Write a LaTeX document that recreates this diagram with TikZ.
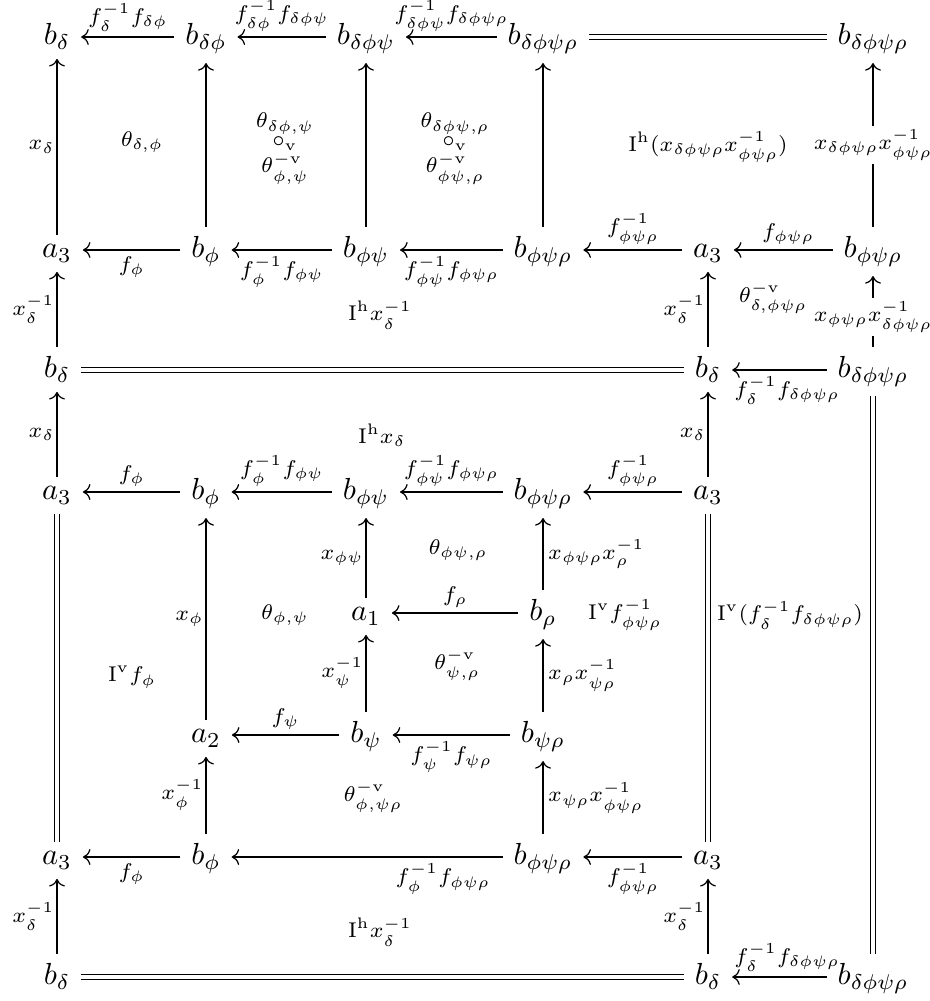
\documentclass[tikz,border=0pt]{standalone}
\usetikzlibrary{cd,arrows.meta}
\begin{document}
\begin{tikzpicture}[x=0.328pt,y=-0.328pt,
  obj/.style={shape=asymmetrical rectangle, inner xsep=3.4pt, inner ysep=3pt},
  arr/.style={-{Computer Modern Rightarrow}, line width=0.4pt},
  eq/.style={double, double distance=1.1pt, line width=0.4pt},
  lab/.style={font=\scriptsize, inner sep=2pt},
  la/.style={lab, above, inner ysep=1.6pt},
  lb/.style={lab, below, inner ysep=2pt},
  ll/.style={lab, left, inner xsep=0.6pt},
  lr/.style={lab, right, inner xsep=1.5pt},
  desc/.style={font=\scriptsize, fill=white, inner sep=1pt, anchor=center},
  area/.style={font=\scriptsize, align=center, inner sep=0pt},
  stk/.style={font=\scriptsize, inner sep=0pt, anchor=base}]
\useasboundingbox (0,0) rectangle (929,1001);
% row 1
\node[obj] (n11) at (57,37) {$b_\delta$};
\node[obj] (n12) at (206,37) {$b_{\delta\phi}$};
\node[obj] (n13) at (366,37) {$b_{\delta\phi\psi}$};
\node[obj] (n14) at (543,37) {$b_{\delta\phi\psi\rho}$};
\node[obj] (n16) at (873,37) {$b_{\delta\phi\psi\rho}$};
% row 2
\node[obj] (n21) at (57,250) {$a_3$};
\node[obj] (n22) at (206,250) {$b_\phi$};
\node[obj] (n23) at (366,250) {$b_{\phi\psi}$};
\node[obj] (n24) at (543,250) {$b_{\phi\psi\rho}$};
\node[obj] (n25) at (708,250) {$a_3$};
\node[obj] (n26) at (873,250) {$b_{\phi\psi\rho}$};
% row 3
\node[obj] (n31) at (57,370) {$b_\delta$};
\node[obj] (n35) at (708,370) {$b_\delta$};
\node[obj] (n36) at (873,370) {$b_{\delta\phi\psi\rho}$};
% row 4
\node[obj] (n41) at (57,492) {$a_3$};
\node[obj] (n42) at (206,492) {$b_\phi$};
\node[obj] (n43) at (366,492) {$b_{\phi\psi}$};
\node[obj] (n44) at (543,492) {$b_{\phi\psi\rho}$};
\node[obj] (n45) at (708,492) {$a_3$};
% row 5
\node[obj] (n53) at (366,613) {$a_1$};
\node[obj] (n54) at (543,613) {$b_\rho$};
% row 6
\node[obj] (n62) at (206,735) {$a_2$};
\node[obj] (n63) at (366,735) {$b_\psi$};
\node[obj] (n64) at (543,735) {$b_{\psi\rho}$};
% row 7
\node[obj] (n71) at (57,857) {$a_3$};
\node[obj] (n72) at (206,857) {$b_\phi$};
\node[obj] (n74) at (543,857) {$b_{\phi\psi\rho}$};
\node[obj] (n75) at (708,857) {$a_3$};
% row 8
\node[obj] (n81) at (57,977) {$b_\delta$};
\node[obj] (n85) at (708,977) {$b_\delta$};
\node[obj] (n86) at (873,977) {$b_{\delta\phi\psi\rho}$};

% row 1 arrows
\draw[arr] (n12) -- node[la]{$f_\delta^{-1}f_{\delta\phi}$} (n11);
\draw[arr] (n13) -- node[la]{$f_{\delta\phi}^{-1}f_{\delta\phi\psi}$} (n12);
\draw[arr] (n14) -- node[la]{$f_{\delta\phi\psi}^{-1}f_{\delta\phi\psi\rho}$} (n13);
\draw[eq] (n14) -- (n16);
% verticals row 2 -> row 1
\draw[arr] (n21) -- node[ll]{$x_\delta$} (n11);
\draw[arr] (n22) -- (n12);
\draw[arr] (n23) -- (n13);
\draw[arr] (n24) -- (n14);
\draw[arr] (n26) -- node[desc]{$x_{\delta\phi\psi\rho}x_{\phi\psi\rho}^{-1}$} (n16);
% row 2 arrows
\draw[arr] (n22) -- node[lb]{$f_\phi$} (n21);
\draw[arr] (n23) -- node[lb]{$f_\phi^{-1}f_{\phi\psi}$} (n22);
\draw[arr] (n24) -- node[lb]{$f_{\phi\psi}^{-1}f_{\phi\psi\rho}$} (n23);
\draw[arr] (n25) -- node[la]{$f_{\phi\psi\rho}^{-1}$} (n24);
\draw[arr] (n26) -- node[la,pos=0.45]{$f_{\phi\psi\rho}$} (n25);
% verticals row 3 -> row 2
\draw[arr] (n31) -- node[ll]{$x_\delta^{-1}$} (n21);
\draw[arr] (n35) -- node[ll]{$x_\delta^{-1}$} (n25);
\draw[arr] (n36) -- node[desc,pos=0.42]{$x_{\phi\psi\rho}x_{\delta\phi\psi\rho}^{-1}$} (n26);
% row 3
\draw[eq] (n31) -- (n35);
\draw[arr] (n36) -- node[lb,pos=0.42]{$f_\delta^{-1}f_{\delta\phi\psi\rho}$} (n35);
% verticals row 4 -> row 3
\draw[arr] (n41) -- node[ll]{$x_\delta$} (n31);
\draw[arr] (n45) -- node[ll]{$x_\delta$} (n35);
\draw[eq] (n36) -- (n86);
% row 4
\draw[arr] (n42) -- node[la]{$f_\phi$} (n41);
\draw[arr] (n43) -- node[la]{$f_\phi^{-1}f_{\phi\psi}$} (n42);
\draw[arr] (n44) -- node[la]{$f_{\phi\psi}^{-1}f_{\phi\psi\rho}$} (n43);
\draw[arr] (n45) -- node[la]{$f_{\phi\psi\rho}^{-1}$} (n44);
\draw[eq] (n41) -- (n71);
\draw[eq] (n45) -- (n75);
% inner verticals
\draw[arr] (n62) -- node[ll]{$x_\phi$} (n42);
\draw[arr] (n53) -- node[ll]{$x_{\phi\psi}$} (n43);
\draw[arr] (n54) -- node[lr]{$x_{\phi\psi\rho}x_\rho^{-1}$} (n44);
% row 5
\draw[arr] (n54) -- node[la]{$f_\rho$} (n53);
\draw[arr] (n63) -- node[ll]{$x_\psi^{-1}$} (n53);
\draw[arr] (n64) -- node[lr]{$x_\rho x_{\psi\rho}^{-1}$} (n54);
% row 6
\draw[arr] (n63) -- node[la]{$f_\psi$} (n62);
\draw[arr] (n64) -- node[lb]{$f_\psi^{-1}f_{\psi\rho}$} (n63);
\draw[arr] (n72) -- node[ll]{$x_\phi^{-1}$} (n62);
\draw[arr] (n74) -- node[lr]{$x_{\psi\rho}x_{\phi\psi\rho}^{-1}$} (n64);
% row 7
\draw[arr] (n72) -- node[lb]{$f_\phi$} (n71);
\draw[arr] (n74) -- node[lb,pos=0.22]{$f_\phi^{-1}f_{\phi\psi\rho}$} (n72);
\draw[arr] (n75) -- node[lb]{$f_{\phi\psi\rho}^{-1}$} (n74);
\draw[arr] (n81) -- node[ll]{$x_\delta^{-1}$} (n71);
\draw[arr] (n85) -- node[ll]{$x_\delta^{-1}$} (n75);
% row 8
\draw[eq] (n81) -- (n85);
\draw[arr] (n86) -- node[la,pos=0.42]{$f_\delta^{-1}f_{\delta\phi\psi\rho}$} (n85);

% 2-cell labels
\node[area] (t1) at (142,142) {$\theta_{\delta,\phi}$};
\node[stk] (t2a) at (285,128) {$\theta_{\delta\phi,\psi}$};
\node[stk] (t2b) at (285,147) {$\circ_{\mathrm{v}}$};
\node[stk] (t2c) at (285,173) {$\theta^{-\mathrm{v}}_{\phi,\psi}$};
\node[stk] (t3a) at (455,128) {$\theta_{\delta\phi\psi,\rho}$};
\node[stk] (t3b) at (455,147) {$\circ_{\mathrm{v}}$};
\node[stk] (t3c) at (455,173) {$\theta^{-\mathrm{v}}_{\phi\psi,\rho}$};
\node[area] (t4) at (708,147) {$\mathrm{I}^{\mathrm{h}}(x_{\delta\phi\psi\rho}x_{\phi\psi\rho}^{-1})$};
\node[area] (t5) at (380,315) {$\mathrm{I}^{\mathrm{h}}x_\delta^{-1}$};
\node[area] (t6) at (773,298) {$\theta^{-\mathrm{v}}_{\delta,\phi\psi\rho}$};
\node[area] (t7) at (382,435) {$\mathrm{I}^{\mathrm{h}}x_\delta$};
\node[area] (t8) at (458,550) {$\theta_{\phi\psi,\rho}$};
\node[area] (t9) at (285,615) {$\theta_{\phi,\psi}$};
\node[area] (t10) at (625,615) {$\mathrm{I}^{\mathrm{v}}f_{\phi\psi\rho}^{-1}$};
\node[area] (t11) at (790,615) {$\mathrm{I}^{\mathrm{v}}(f_\delta^{-1}f_{\delta\phi\psi\rho})$};
\node[area] (t12) at (132,677) {$\mathrm{I}^{\mathrm{v}}f_\phi$};
\node[area] (t13) at (457,665) {$\theta^{-\mathrm{v}}_{\psi,\rho}$};
\node[area] (t14) at (373,797) {$\theta^{-\mathrm{v}}_{\phi,\psi\rho}$};
\node[area] (t15) at (380,932) {$\mathrm{I}^{\mathrm{h}}x_\delta^{-1}$};
\end{tikzpicture}
\end{document}
